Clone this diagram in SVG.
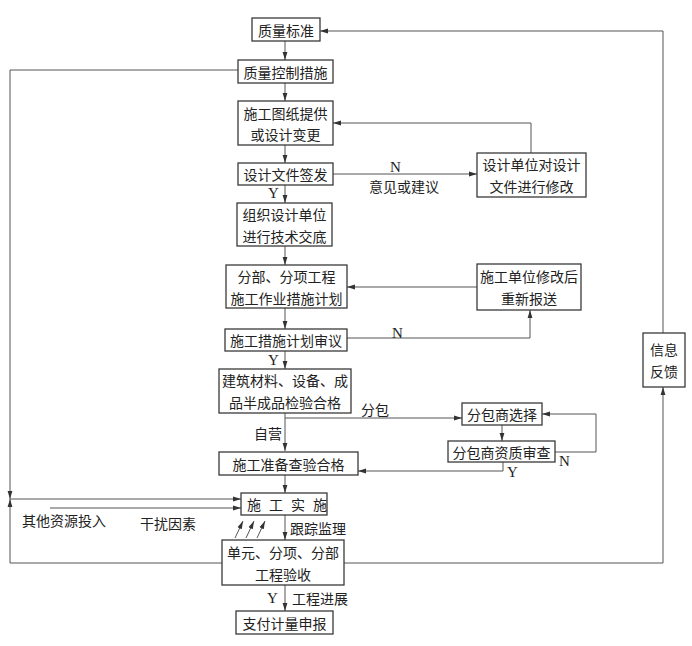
<svg xmlns="http://www.w3.org/2000/svg" width="692" height="646" viewBox="0 0 692 646">
<style>
.box{fill:#fff;stroke:#3a3a3a;stroke-width:1.3}
.ln{fill:none;stroke:#555;stroke-width:1}
.t{font-family:"Noto Sans CJK SC","Liberation Serif",serif;font-size:14px;fill:#222;text-anchor:middle;dominant-baseline:central}
.l{font-family:"Noto Sans CJK SC","Liberation Serif",serif;font-size:14px;fill:#222;dominant-baseline:central}
.yn{font-family:"Liberation Serif",serif;font-size:15px;fill:#222;dominant-baseline:central}
</style>
<defs>
<marker id="ah" markerWidth="8" markerHeight="6" refX="8" refY="3" orient="auto" markerUnits="userSpaceOnUse">
<path d="M0,0.6 L8,3 L0,5.4 Z" fill="#333"/>
</marker>
</defs>
<rect width="692" height="646" fill="#fff"/>
<g id="connectors">
<path class="ln" marker-end="url(#ah)" d="M285,41 V60"/>
<path class="ln" marker-end="url(#ah)" d="M285,83 V101"/>
<path class="ln" marker-end="url(#ah)" d="M285,145 V163"/>
<path class="ln" marker-end="url(#ah)" d="M285,185 V203"/>
<path class="ln" marker-end="url(#ah)" d="M285,246 V265"/>
<path class="ln" marker-end="url(#ah)" d="M285,308 V329"/>
<path class="ln" marker-end="url(#ah)" d="M285,351 V369"/>
<path class="ln" marker-end="url(#ah)" d="M285,413 V451"/>
<path class="ln" marker-end="url(#ah)" d="M285,474 V493"/>
<path class="ln" marker-end="url(#ah)" d="M285,515 V540"/>
<path class="ln" marker-end="url(#ah)" d="M285,585 V611"/>
<path class="ln" marker-end="url(#ah)" d="M344,563 H663 V387"/>
<path class="ln" marker-end="url(#ah)" d="M663,333 V31 H320"/>
<path class="ln" marker-end="url(#ah)" d="M531,153 V123 H333"/>
<path class="ln" marker-end="url(#ah)" d="M333,174 H477"/>
<path class="ln" marker-end="url(#ah)" d="M477,287 H347"/>
<path class="ln" marker-end="url(#ah)" d="M347,338 H530 V310"/>
<path class="ln" marker-end="url(#ah)" d="M285,418 H462"/>
<path class="ln" marker-end="url(#ah)" d="M502,425 V441"/>
<path class="ln" marker-end="url(#ah)" d="M555,452 H596 V414 H542"/>
<path class="ln" marker-end="url(#ah)" d="M503,462 V471 H358"/>
<path class="ln" marker-end="url(#ah)" d="M238,70 H10 V499"/>
<path class="ln" marker-end="url(#ah)" d="M222,563 H10 V499"/>
<path class="ln" marker-end="url(#ah)" d="M10,499 H241"/>
<path class="ln" marker-end="url(#ah)" d="M50,508 H241"/>
<path class="ln" marker-end="url(#ah)" d="M235,538 L243,521"/>
<path class="ln" marker-end="url(#ah)" d="M246,538 L254,521"/>
<path class="ln" marker-end="url(#ah)" d="M257,538 L265,521"/>
</g>
<g id="n1"><rect class="box" x="252" y="18" width="68" height="23"/><text class="t" x="286" y="29.5">质量标准</text></g>
<g id="n2"><rect class="box" x="238" y="60" width="95" height="23"/><text class="t" x="285.5" y="71.5">质量控制措施</text></g>
<g id="n3"><rect class="box" x="238" y="101" width="95" height="44"/><text class="t" x="285.5" y="113">施工图纸提供</text><text class="t" x="285.5" y="134">或设计变更</text></g>
<g id="n4"><rect class="box" x="238" y="163" width="95" height="22"/><text class="t" x="285.5" y="174">设计文件签发</text></g>
<g id="n5"><rect class="box" x="237" y="203" width="95" height="43"/><text class="t" x="284.5" y="214">组织设计单位</text><text class="t" x="284.5" y="236">进行技术交底</text></g>
<g id="n6"><rect class="box" x="226" y="265" width="121" height="43"/><text class="t" x="286.5" y="276">分部、分项工程</text><text class="t" x="286.5" y="298">施工作业措施计划</text></g>
<g id="n7"><rect class="box" x="477" y="264" width="104" height="46"/><text class="t" x="529" y="276">施工单位修改后</text><text class="t" x="529" y="298">重新报送</text></g>
<g id="n8"><rect class="box" x="225" y="329" width="122" height="22"/><text class="t" x="286" y="340">施工措施计划审议</text></g>
<g id="n9"><rect class="box" x="219" y="369" width="132" height="44"/><text class="t" x="285" y="380">建筑材料、设备、成</text><text class="t" x="285" y="402">品半成品检验合格</text></g>
<g id="n10"><rect class="box" x="462" y="403" width="80" height="22"/><text class="t" x="502" y="414">分包商选择</text></g>
<g id="n11"><rect class="box" x="448" y="441" width="107" height="21"/><text class="t" x="501.5" y="451.5">分包商资质审查</text></g>
<g id="n12"><rect class="box" x="219" y="452" width="139" height="23"/><text class="t" x="288.5" y="463.5">施工准备查验合格</text></g>
<g id="n13"><rect class="box" x="241" y="493" width="86" height="22"/><text class="l" x="247" y="504" letter-spacing="8">施工实施</text></g>
<g id="n14"><rect class="box" x="222" y="540" width="122" height="45"/><text class="t" x="283" y="552">单元、分项、分部</text><text class="t" x="283" y="574">工程验收</text></g>
<g id="n15"><rect class="box" x="236" y="611" width="97" height="23"/><text class="t" x="284.5" y="622.5">支付计量申报</text></g>
<g id="n16"><rect class="box" x="477" y="153" width="109" height="44"/><text class="t" x="531.5" y="164">设计单位对设计</text><text class="t" x="531.5" y="186">文件进行修改</text></g>
<g id="n17"><rect class="box" x="643" y="333" width="42" height="54"/><text class="t" x="664" y="349">信息</text><text class="t" x="664" y="371">反馈</text></g>
<g id="labels">
<text class="yn" x="268" y="193">Y</text>
<text class="yn" x="390" y="167">N</text>
<text class="l" x="369" y="186">意见或建议</text>
<text class="yn" x="392" y="333">N</text>
<text class="yn" x="268" y="360">Y</text>
<text class="l" x="361" y="409">分包</text>
<text class="l" x="254" y="433">自营</text>
<text class="yn" x="559" y="461">N</text>
<text class="yn" x="507" y="472">Y</text>
<text class="l" x="22" y="520">其他资源投入</text>
<text class="l" x="140" y="523">干扰因素</text>
<text class="l" x="290" y="528">跟踪监理</text>
<text class="yn" x="267" y="598">Y</text>
<text class="l" x="292" y="598">工程进展</text>
</g>
</svg>
